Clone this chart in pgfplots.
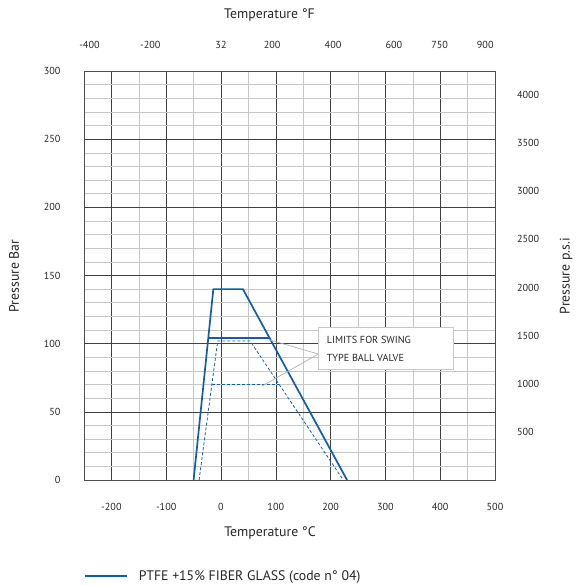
\documentclass[border=0pt]{standalone}
\usepackage{fontspec}
\setmainfont{PT Sans}
\usepackage{pgfplots}
\pgfplotsset{compat=1.18}
\definecolor{valveblue}{RGB}{18,92,172}
\begin{document}
\begin{tikzpicture}
\path[use as bounding box] (0pt,0pt) rectangle (576pt,-585pt);
\begin{axis}[
  at={(84pt,-480pt)}, anchor=south west, scale only axis,
  width=411pt, height=409pt,
  xmin=-250, xmax=500, ymin=0, ymax=300,
  xtick={-200,-100,0,100,200,300,400,500},
  xticklabels={-200,-100,0,100,200,300,400,500},
  minor xtick={-250,-150,-50,50,150,250,350,450},
  ytick={0,50,100,150,200,250,300},
  yticklabels={0,50,100,150,200,250,300},
  minor ytick={10,20,30,40,60,70,80,90,110,120,130,140,160,170,180,190,210,220,230,240,260,270,280,290},
  grid=both,
  major grid style={draw=black!75, line width=0.6pt},
  minor grid style={draw=black!22, line width=0.6pt},
  axis line style={draw=black!70, line width=0.7pt},
  major tick length=0pt, minor tick length=0pt,
  tick label style={font=\fontsize{10.2}{12}\selectfont, text=black!85},
  xticklabel style={yshift=-20pt},
  yticklabel style={xshift=-20pt},
  legend style={at={(0,-0.2347)}, anchor=west, draw=none, fill=none, inner sep=0pt,
    font=\fontsize{13.8}{16}\selectfont, text=black!85,
    /tikz/every odd column/.append style={column sep=9pt}},
  legend image code/.code={\draw[#1] (0pt,0pt) -- (42pt,0pt);},
]
\addplot[valveblue, line width=1.7pt, line join=round] coordinates {(-50,0) (-14,140) (40,140) (230,0)};
\addlegendentry{PTFE +15\% FIBER GLASS (code n° 04)}
\addplot[valveblue, line width=1.7pt, forget plot] coordinates {(-23.3,104) (89,104)};
\addplot[valveblue, line width=0.8pt, dash pattern=on 3pt off 2pt, forget plot] coordinates {(-40,0) (-6,102) (53,102) (223,0)};
\addplot[valveblue, line width=0.8pt, dash pattern=on 3pt off 2pt, forget plot] coordinates {(-16.7,70) (106,70)};
\end{axis}
\begin{axis}[
  at={(84pt,-480pt)}, anchor=south west, scale only axis,
  width=411pt, height=409pt,
  xmin=-418, xmax=932, ymin=0, ymax=4250,
  axis x line*=top, axis y line*=right,
  axis line style={draw=none},
  xtick={-400,-200,32,200,400,600,750,900},
  xticklabels={-400,-200,32,200,400,600,750,900},
  ytick={500,1000,1500,2000,2500,3000,3500,4000},
  yticklabels={500,1000,1500,2000,2500,3000,3500,4000},
  major tick length=0pt,
  tick label style={font=\fontsize{10.2}{12}\selectfont, text=black!85},
  xticklabel style={yshift=18.4pt},
  yticklabel style={xshift=18.5pt},
]
\addplot[draw=none] coordinates {(0,0)};
\end{axis}
\draw[black!30, line width=0.7pt] (270pt,-340pt) -- (318.3pt,-354pt) -- (261.7pt,-386.3pt);
\node[draw=black!22, fill=white, line width=0.9pt, minimum width=135pt, minimum height=42.6pt, anchor=north west, inner sep=0pt] at (318.3pt,-326.7pt) {};
\node[anchor=west, inner sep=0pt, font=\fontsize{10.2}{12}\selectfont, text=black!85] at (326.7pt,-340pt) {LIMITS FOR SWING};
\node[anchor=west, inner sep=0pt, font=\fontsize{10.2}{12}\selectfont, text=black!85] at (326.7pt,-358pt) {TYPE BALL VALVE};
\node[font=\fontsize{13.8}{16}\selectfont, text=black!85] at (269.5pt,-15pt) {Temperature °F};
\node[font=\fontsize{13.8}{16}\selectfont, text=black!85] at (270pt,-533pt) {Temperature °C};
\node[rotate=90, font=\fontsize{13.8}{16}\selectfont, text=black!85] at (14pt,-276pt) {Pressure Bar};
\node[rotate=90, font=\fontsize{13.8}{16}\selectfont, text=black!85] at (566pt,-276pt) {Pressure p.s.i};
\end{tikzpicture}
\end{document}
